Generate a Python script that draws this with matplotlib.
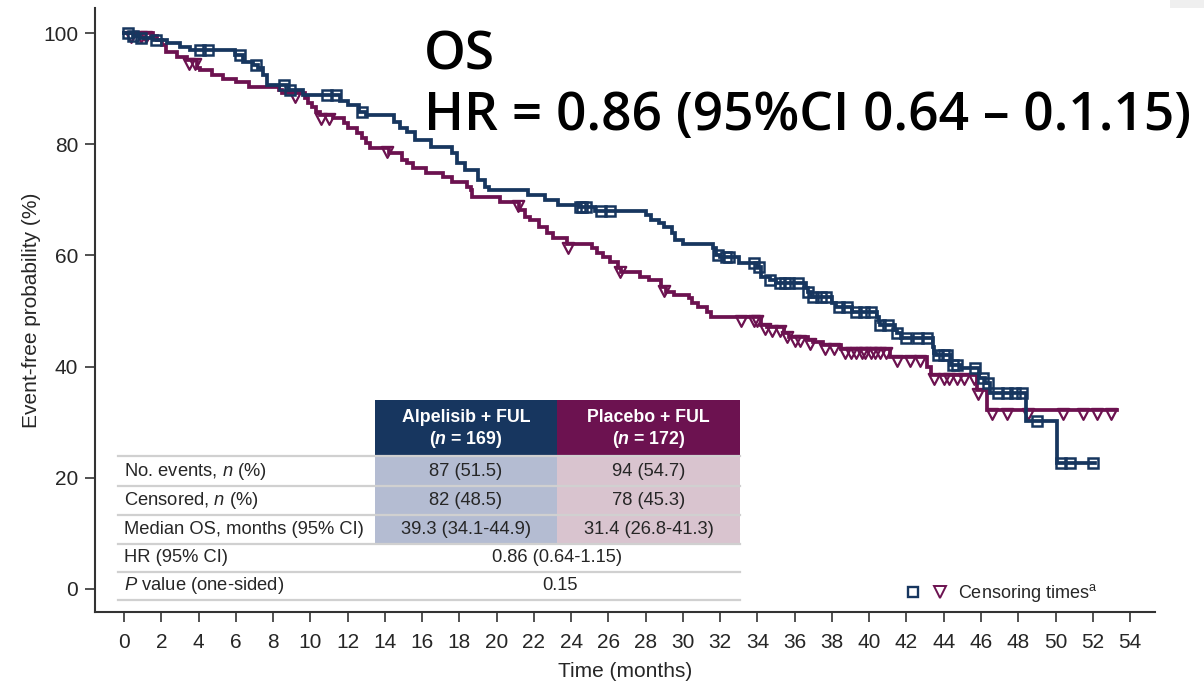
import numpy as np
import matplotlib
matplotlib.use("Agg")
import matplotlib.pyplot as plt
import matplotlib.transforms as mtransforms
from matplotlib.patches import Rectangle
from matplotlib.path import Path
from matplotlib.lines import Line2D
from matplotlib.legend_handler import HandlerTuple

plt.rcParams['font.family'] = ['Liberation Sans', 'DejaVu Sans']
plt.rcParams['mathtext.fontset'] = 'custom'
plt.rcParams['mathtext.rm'] = 'Liberation Sans'
plt.rcParams['mathtext.it'] = 'Liberation Sans:italic'
plt.rcParams['mathtext.bf'] = 'Liberation Sans:bold'
plt.rcParams['mathtext.bfit'] = 'Liberation Sans:italic:bold'

# Kaplan-Meier steps (time in months, event-free %)
alp_t = [0, 0.48, 0.86, 1.56, 2.31, 3.0, 3.54, 5.96, 6.39, 6.92, 7.19, 7.46, 7.68,
         8.8, 9.6, 11.6, 12.0, 12.6, 13.0, 14.5, 14.8, 15.2, 15.6, 16.5, 17.6, 17.9,
         18.3, 19.0, 19.4, 19.6, 21.7, 22.6, 23.3, 24.4, 25.3, 28.0, 28.3, 28.7, 29.0,
         29.4, 29.6, 30.0, 31.6, 31.8, 32.0, 33.0, 34.0, 34.2, 34.7, 35.0, 36.6, 36.7,
         36.9, 38.0, 38.2, 39.1, 40.4, 40.5, 40.6, 41.4, 41.5, 41.7, 43.4, 43.5, 43.6,
         44.4, 44.9, 45.9, 46.2, 46.5, 48.4, 50.1]
alp_s = [100, 99.4, 99.1, 98.7, 98.2, 97.5, 96.9, 96.0, 94.8, 94.2, 93.7, 92.4, 90.6,
         89.7, 88.8, 87.8, 87.1, 85.8, 85.3, 84.0, 83.0, 82.2, 80.8, 79.5, 78.4, 76.6,
         75.4, 73.6, 72.3, 71.8, 70.9, 70.0, 69.1, 68.7, 68.0, 67.3, 66.4, 65.8, 65.1,
         64.0, 62.8, 62.0, 61.3, 60.1, 59.7, 58.6, 57.9, 56.1, 55.6, 55.0, 54.1, 53.4,
         52.5, 51.4, 50.7, 49.8, 48.9, 48.0, 47.5, 46.6, 46.0, 45.1, 43.5, 42.4, 42.1,
         40.3, 39.7, 38.0, 37.0, 35.3, 30.2, 22.7]
alp_end = 52.1
alp_cens = [0.2, 0.5, 0.9, 1.7, 4.1, 4.5, 6.2, 7.1, 8.6, 8.9, 10.9, 11.4, 12.8, 24.5,
            24.6, 24.8, 25.6, 26.1, 31.9, 32.3, 32.5, 33.8, 34.1, 34.7, 35.2, 35.5,
            35.7, 36.2, 36.7, 37.0, 37.4, 37.7, 38.4, 38.8, 39.3, 39.7, 40.1, 40.6,
            41.0, 41.5, 42.0, 42.6, 43.1, 43.7, 44.0, 44.2, 44.5, 44.7, 45.7, 46.1,
            46.4, 46.9, 47.4, 47.8, 48.2, 49.0, 50.3, 50.8, 52.0]

plc_t = [0, 1.56, 1.77, 2.04, 2.25, 2.84, 3.4, 3.9, 4.1, 4.7, 5.3, 6.0, 6.7, 8.3, 8.5,
         9.7, 9.9, 10.1, 10.3, 10.5, 11.2, 11.8, 12.0, 12.5, 12.8, 13.0, 13.2, 14.2,
         14.9, 15.2, 15.5, 16.2, 17.1, 17.6, 18.4, 18.6, 18.7, 20.2, 21.2, 21.5, 21.8,
         22.3, 22.7, 23.0, 23.8, 25.1, 25.4, 25.7, 26.1, 26.5, 26.7, 27.7, 28.2, 28.8,
         29.1, 29.5, 30.3, 30.5, 30.8, 31.3, 31.5, 34.2, 34.5, 35.4, 35.7, 36.7, 37.0,
         37.5, 38.5, 41.1, 43.1, 43.3, 45.8, 46.3]
plc_s = [100, 99.5, 98.7, 97.8, 96.6, 95.7, 95.1, 93.7, 93.3, 92.4, 91.8, 91.2, 90.3,
         89.7, 89.3, 88.3, 87.4, 86.7, 85.8, 85.3, 84.7, 83.8, 82.9, 82.0, 81.1, 80.2,
         79.3, 78.4, 77.2, 76.6, 75.7, 74.8, 74.1, 73.2, 72.3, 71.8, 70.5, 69.6, 68.2,
         66.9, 66.4, 65.1, 64.0, 63.1, 62.1, 61.3, 60.4, 59.7, 58.8, 57.7, 57.0, 56.1,
         55.6, 54.3, 53.4, 52.9, 52.3, 51.4, 50.7, 49.8, 48.9, 47.5, 47.1, 46.0, 45.3,
         44.8, 44.4, 43.9, 43.2, 41.7, 39.9, 38.5, 35.8, 32.2]
plc_end = 53.3
plc_cens = [0.4, 0.9, 1.2, 3.5, 3.8, 9.2, 10.6, 11.0, 14.1, 21.15, 23.85, 26.6, 29.0,
            33.1, 33.8, 34.0, 34.4, 34.8, 35.2, 35.6, 36.0, 36.3, 36.8, 37.6, 38.1,
            38.7, 39.0, 39.3, 39.6, 39.8, 40.1, 40.3, 40.6, 40.9, 41.5, 42.2, 42.7,
            43.5, 44.0, 44.3, 44.7, 45.1, 45.6, 45.85, 46.6, 47.4, 48.5, 50.4, 51.5,
            52.2, 53.0]

row_labels = ["No. events, $n$ (%)", "Censored, $n$ (%)", "Median OS, months (95% CI)",
              "HR (95% CI)", "$P$ value (one-sided)"]
alp_cells = ["87 (51.5)", "82 (48.5)", "39.3 (34.1-44.9)"]
plc_cells = ["94 (54.7)", "78 (45.3)", "31.4 (26.8-41.3)"]
hr_text = "0.86 (0.64-1.15)"
p_text = "0.15"

BLUE = '#17365F'
PURPLE = '#6C1250'
BLUE_LIGHT = '#B4BCD2'
PURPLE_LIGHT = '#D9C4CF'
TXT = '#262626'

W, H = 1204, 684
fig = plt.figure(figsize=(W / 100, H / 100), dpi=100)
ax = fig.add_axes([95 / W, 1 - 612 / H, (1155 - 95) / W, (612 - 8) / H])
# pixel coordinates (origin top-left) for the overlay table
tpx = mtransforms.Affine2D().scale(1 / W, -1 / H).translate(0, 1) + fig.transFigure


def level_at(t_steps, s_steps, t):
    idx = np.searchsorted(t_steps, t, side='right') - 1
    return np.asarray(s_steps)[idx]


# triangle hanging just under the curve
tri = Path([(-5.5, 1.5), (5.5, 1.5), (0, -9), (-5.5, 1.5)],
           [Path.MOVETO, Path.LINETO, Path.LINETO, Path.CLOSEPOLY])

for t, s, end, cens, col, mk in [
        (plc_t, plc_s, plc_end, plc_cens, PURPLE, 'tri'),
        (alp_t, alp_s, alp_end, alp_cens, BLUE, 's')]:
    tt = list(t) + [end]
    ss = list(s) + [s[-1]]
    ax.step(tt, ss, where='post', color=col, lw=2.7, solid_joinstyle='miter')
    cy = level_at(t, s, cens)
    if mk == 's':
        ax.plot(cens, cy, ls='none', marker='s', ms=7.3, mfc='none', mec=col, mew=1.8)
    else:
        ax.plot(cens, cy, ls='none', marker=tri, ms=13.5, mfc='none', mec=col, mew=1.6)

ax.set_xlim(-1.557, 55.34)
ax.set_ylim(-4.14, 104.5)
ax.set_xticks(np.arange(0, 55, 2))
ax.set_yticks([0, 20, 40, 60, 80, 100])
for sp in ['top', 'right']:
    ax.spines[sp].set_visible(False)
for sp in ['left', 'bottom']:
    ax.spines[sp].set_color('#333333')
    ax.spines[sp].set_linewidth(1.5)
ax.tick_params(axis='both', length=7, width=1.2, color='#333333', labelsize=15,
               labelcolor=TXT)
ax.tick_params(axis='x', pad=8)
ax.tick_params(axis='y', pad=5)
ax.set_xlabel("Time (months)", fontsize=15, color=TXT)
ax.set_ylabel("Event-free probability (%)", fontsize=15, color=TXT)
ax.xaxis.set_label_coords(0.5, -0.082)
ax.yaxis.set_label_coords(-0.051, 0.5)

# summary table
x0, x1, x2, x3 = 118, 375, 557, 740
edges = [456, 486, 515, 544, 572, 600]
fig.add_artist(Rectangle((x1, 400), x2 - x1, 56, transform=tpx, color=BLUE, lw=0))
fig.add_artist(Rectangle((x2, 400), x3 - x2, 56, transform=tpx, color=PURPLE, lw=0))
fig.add_artist(Rectangle((x1, edges[0]), x2 - x1, edges[3] - edges[0], transform=tpx,
                         color=BLUE_LIGHT, lw=0))
fig.add_artist(Rectangle((x2, edges[0]), x3 - x2, edges[3] - edges[0], transform=tpx,
                         color=PURPLE_LIGHT, lw=0))
for e in edges:
    fig.add_artist(Line2D([x0, x3], [e, e], transform=tpx, color='#D0D0D0', lw=1.6))

hdr = dict(transform=tpx, color='white', fontsize=12.8, fontweight='bold',
           ha='center', va='center')
fig.text((x1 + x2) / 2, 418, "Alpelisib + FUL", **hdr)
fig.text((x1 + x2) / 2, 439, "($\\mathbfit{n}$ = 169)", **hdr)
fig.text((x2 + x3) / 2, 418, "Placebo + FUL", **hdr)
fig.text((x2 + x3) / 2, 439, "($\\mathbfit{n}$ = 172)", **hdr)

cell = dict(transform=tpx, color=TXT, fontsize=13.2, va='center')
for i, lab in enumerate(row_labels):
    yc = (edges[i] + edges[i + 1]) / 2
    fig.text(124, yc, lab, ha='left', **cell)
    if i < 3:
        fig.text((x1 + x2) / 2, yc, alp_cells[i], ha='center', **cell)
        fig.text((x2 + x3) / 2, yc, plc_cells[i], ha='center', **cell)
fig.text(x2, (edges[3] + edges[4]) / 2, hr_text, ha='center', **cell)
fig.text(x2 + 3, (edges[4] + edges[5]) / 2, p_text, ha='center', **cell)

# censoring legend
h_sq = Line2D([], [], ls='none', marker='s', ms=7.5, mfc='none', mec=BLUE, mew=1.7)
h_tri = Line2D([], [], ls='none', marker='v', ms=9, mfc='none', mec=PURPLE, mew=1.4)
fig.legend([(h_sq, h_tri)], ["Censoring times$^{\\mathrm{a}}$"],
           handler_map={tuple: HandlerTuple(ndivide=None, pad=0.6)},
           loc='center left', bbox_to_anchor=(896 / W, 1 - 593 / H), frameon=False,
           fontsize=13, handlelength=2.4, handletextpad=0.55, borderpad=0,
           labelcolor=TXT)

# headline
head = dict(transform=tpx, fontsize=38.3, fontweight='semibold',
            family=['Open Sans', 'DejaVu Sans'], color='black', va='baseline')
fig.text(424, 70, "OS", **head)
fig.text(424, 130, "HR = 0.86 (95%CI 0.64 \u2013 0.1.15)", **head)

fig.add_artist(Rectangle((1170, 0), 34, 8, transform=tpx, color='#EFEFEF', lw=0))

fig.savefig("out.png", dpi=100)
